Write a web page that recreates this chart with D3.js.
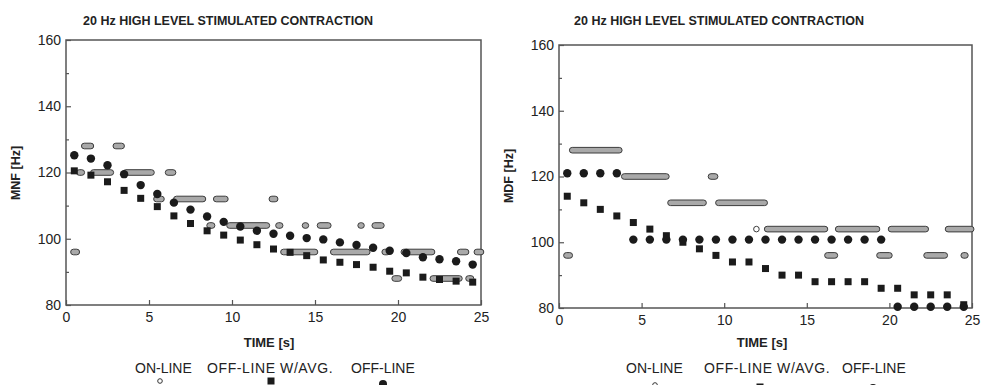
<!DOCTYPE html>
<html>
<head>
<meta charset="utf-8">
<script src="https://cdn.jsdelivr.net/npm/d3@7"></script>
<style>
  body { margin: 0; background: #fff; }
  svg { display: block; }
  text { font-family: "Liberation Sans", Arial, Helvetica, sans-serif; fill: #222; }
  .tick text { font-size: 14px; }
  .tick line { stroke: #555; stroke-width: 1.2; }
</style>
</head>
<body>
<svg id="chart" width="993" height="385"></svg>
<script>
// ---- text ----
const titleText = "20 Hz HIGH LEVEL STIMULATED CONTRACTION";
const xLabelText = "TIME [s]";
const yLabelLeft = "MNF [Hz]";
const yLabelRight = "MDF [Hz]";
const legendLabels = ["ON-LINE", "OFF-LINE W/AVG.", "OFF-LINE"];

// ---- ticks ----
const timeTicks = [0, 5, 10, 15, 20, 25];
const freqTicks = [80, 100, 120, 140, 160];
const freqMinorTicks = [90, 110, 130, 150];

// ---- off-line estimates, one per second ----
const sampleTimes = [0.5, 1.5, 2.5, 3.5, 4.5, 5.5, 6.5, 7.5, 8.5, 9.5, 10.5, 11.5, 12.5,
                     13.5, 14.5, 15.5, 16.5, 17.5, 18.5, 19.5, 20.5, 21.5, 22.5, 23.5, 24.5];

const mnfOffline = [125.2, 124.2, 122.2, 119.5, 116.2, 113.5, 110.9, 108.8, 106.7, 105.1, 103.7, 102.4, 101.5,
                    100.9, 100.2, 99.8, 98.9, 98.1, 97.3, 96.4, 95.7, 94.4, 93.8, 93.2, 92.2];
const mnfOfflineAvg = [120.5, 119.2, 117.2, 114.6, 112.2, 109.7, 106.9, 104.6, 102.4, 101.1, 99.6, 98.2, 96.9,
                       95.9, 94.9, 93.6, 92.9, 92.2, 91.4, 90.2, 89.7, 88.4, 87.7, 87.2, 86.9];

const mdfOffline = [121, 121, 121, 121, 100.8, 100.8, 100.8, 100.8, 100.8, 100.8, 100.8, 100.8, 100.8,
                    100.8, 100.8, 100.8, 100.8, 100.8, 100.8, 100.8, 80.4, 80.4, 80.4, 80.4, 80.4];
const mdfOfflineAvg = [114, 112, 110, 108, 106, 104, 102, 100, 98, 96, 94, 94, 92,
                       90, 90, 88, 88, 88, 88, 86, 86, 84, 84, 84, 81];

// ---- on-line estimates: runs of equal output (start s, end s, level Hz) ----
const mnfOnlineStart = [0.45, 0.80, 1.10, 1.65, 3.00, 3.60, 5.45, 6.15, 6.65, 8.65, 9.05, 9.85, 12.40, 12.80,
                        13.10, 14.40, 15.30, 16.10, 17.75, 18.60, 19.20, 19.80, 20.35, 22.10, 23.75, 24.25, 24.75];
const mnfOnlineEnd   = [0.65, 0.95, 1.50, 2.70, 3.35, 5.15, 5.75, 6.45, 8.25, 8.80, 9.60, 12.10, 12.60, 12.90,
                        15.00, 14.45, 15.80, 18.15, 17.80, 19.00, 19.35, 20.05, 22.05, 23.70, 24.10, 24.40, 25.00];
const mnfOnlineLevel = [96, 120, 128, 120, 128, 120, 112, 120, 112, 104, 112, 104, 112, 104,
                        96, 104, 104, 96, 104, 104, 96, 88, 96, 88, 96, 88, 96];

const mdfOnlineStart = [0.45, 0.80, 3.95, 6.75, 9.20, 9.65, 11.95, 12.60, 16.25, 16.90, 19.40, 20.10, 22.25, 23.55, 24.50];
const mdfOnlineEnd   = [0.65, 3.65, 6.50, 8.75, 9.45, 12.45, 11.95, 16.10, 16.70, 19.25, 20.00, 22.20, 23.35, 24.95, 24.60];
const mdfOnlineLevel = [96, 128, 120, 112, 120, 112, 104, 104, 96, 104, 96, 104, 96, 104, 96];

const svg = d3.select("#chart");
const ink = "#1b1b1b";

function drawPanel(p) {
  const x = d3.scaleLinear().domain([0, 25]).range([p.left, p.right]);
  const y = d3.scaleLinear().domain([80, 160]).range([p.bottom, p.top]);
  const g = svg.append("g");

  // title
  g.append("text").attr("x", p.titleX).attr("y", 25)
    .attr("text-anchor", "middle").attr("font-size", 12.5).attr("font-weight", "bold")
    .text(titleText);

  // axes with inward ticks
  const xAxis = g.append("g").attr("transform", `translate(0,${p.bottom})`)
    .call(d3.axisBottom(x).tickValues(timeTicks).tickSize(-5).tickPadding(7));
  const yAxis = g.append("g").attr("transform", `translate(${p.left},0)`)
    .call(d3.axisLeft(y).tickValues(freqTicks).tickSize(-5).tickPadding(5));
  const yMinor = g.append("g").attr("transform", `translate(${p.left},0)`)
    .call(d3.axisLeft(y).tickValues(freqMinorTicks).tickSize(-3).tickFormat(() => ""));
  [xAxis, yAxis, yMinor].forEach(a => {
    a.attr("font-size", null).attr("font-family", null);
    a.select(".domain").remove();
  });

  // frame
  g.append("rect").attr("x", p.left).attr("y", p.top)
    .attr("width", p.right - p.left).attr("height", p.bottom - p.top)
    .attr("fill", "none").attr("stroke", "#555").attr("stroke-width", 1.5);

  // axis titles
  g.append("text").attr("transform", `translate(${p.yLabelX},${p.yLabelY}) rotate(-90)`)
    .attr("text-anchor", "middle").attr("font-size", 12.5).attr("font-weight", "bold")
    .text(p.yLabel);
  g.append("text").attr("x", p.xLabelX).attr("y", 347)
    .attr("text-anchor", "middle").attr("font-size", 13).attr("font-weight", "bold")
    .text(xLabelText);

  // on-line runs
  const r = 2.8;
  const runs = d3.range(p.onStart.length);
  g.append("g").selectAll("rect").data(runs).join("rect")
    .attr("x", i => x(p.onStart[i]) - r)
    .attr("y", i => y(p.onLevel[i]) - r)
    .attr("width", i => x(p.onEnd[i]) - x(p.onStart[i]) + 2 * r)
    .attr("height", 2 * r).attr("rx", r)
    .attr("fill", i => p.onStart[i] === p.onEnd[i] ? "#fff" : "#a9a9a9")
    .attr("stroke", "#3c3c3c").attr("stroke-width", 1);

  // off-line
  const idx = d3.range(sampleTimes.length);
  g.append("g").selectAll("circle").data(idx).join("circle")
    .attr("cx", i => x(sampleTimes[i])).attr("cy", i => y(p.offline[i]))
    .attr("r", 4.2).attr("fill", ink);

  // off-line with averaging
  const s = 7;
  g.append("g").selectAll("rect").data(idx).join("rect")
    .attr("x", i => x(sampleTimes[i]) - s / 2).attr("y", i => y(p.offlineAvg[i]) - s / 2)
    .attr("width", s).attr("height", s).attr("fill", ink);

  // legend
  const lg = g.append("g");
  p.legend.forEach((L, k) => {
    lg.append("text").attr("x", L.tx).attr("y", 373).attr("font-size", 14)
      .attr("letter-spacing", k === 1 ? 0.6 : 0).text(legendLabels[k]);
  });
  const m = p.legend;
  lg.append("circle").attr("cx", m[0].mx).attr("cy", m[0].my).attr("r", 2.3)
    .attr("fill", "#fff").attr("stroke", "#333").attr("stroke-width", 1);
  lg.append("rect").attr("x", m[1].mx - 3.5).attr("y", m[1].my - 3.5)
    .attr("width", 7).attr("height", 7).attr("fill", ink);
  lg.append("circle").attr("cx", m[2].mx).attr("cy", m[2].my).attr("r", 4).attr("fill", ink);
}

drawPanel({
  left: 66, right: 481, top: 40, bottom: 305,
  titleX: 228, yLabel: yLabelLeft, yLabelX: 20, yLabelY: 173, xLabelX: 269,
  offline: mnfOffline, offlineAvg: mnfOfflineAvg,
  onStart: mnfOnlineStart, onEnd: mnfOnlineEnd, onLevel: mnfOnlineLevel,
  legend: [{tx: 135, mx: 160, my: 381}, {tx: 207, mx: 271, my: 381}, {tx: 351, mx: 383, my: 384}]
});

drawPanel({
  left: 559, right: 972, top: 45, bottom: 308,
  titleX: 719, yLabel: yLabelRight, yLabelX: 513, yLabelY: 176, xLabelX: 762,
  offline: mdfOffline, offlineAvg: mdfOfflineAvg,
  onStart: mdfOnlineStart, onEnd: mdfOnlineEnd, onLevel: mdfOnlineLevel,
  legend: [{tx: 626, mx: 655, my: 385}, {tx: 704, mx: 760, my: 387}, {tx: 842, mx: 873, my: 388}]
});
</script>
</body>
</html>
